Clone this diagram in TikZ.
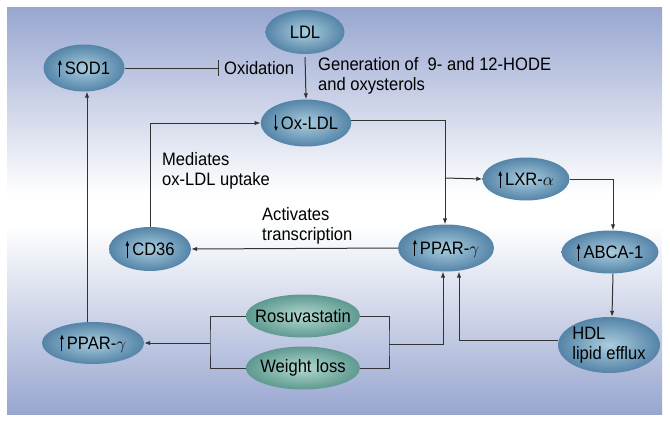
\documentclass[tikz,border=0pt]{standalone}
\usepackage{fontspec}
\setmainfont{Liberation Sans}[FakeStretch=0.92]
\usetikzlibrary{arrows.meta,shapes.geometric}
\definecolor{bgblue}{HTML}{98A6D0}
\definecolor{cellout}{HTML}{5584A8}
\definecolor{cellin}{HTML}{A9CDDE}
\definecolor{drugout}{HTML}{5E998F}
\definecolor{drugin}{HTML}{B2D9D0}
\definecolor{linegray}{HTML}{333333}
\tikzset{
	cell/.style={ellipse, inner sep=0pt, shading=radial, inner color=cellin, outer color=cellout, font=\fontsize{18}{20}\selectfont},
	drug/.style={cell, inner color=drugin, outer color=drugout, inner xsep=-9pt},
	conn/.style={draw=linegray, line width=1pt},
	arr/.style={conn, -{Latex[length=6pt,width=4.5pt]}},
	lbl/.style={font=\fontsize{18}{20.5}\selectfont, align=left, inner sep=0pt}
}
\newcommand{\upa}{\tikz[baseline=0pt]\draw[line width=1pt,-{Latex[length=5pt,width=4pt]}] (0,-2pt) -- (0,15pt);\kern3pt}
\newcommand{\dna}{\tikz[baseline=0pt]\draw[line width=1pt,-{Latex[length=5pt,width=4pt]}] (0,15pt) -- (0,-2pt);\kern3pt}
\begin{document}
\begin{tikzpicture}[x=1pt, y=-1pt]
	\useasboundingbox (0, 0) rectangle (670, 421);
	% Draw background
	\fill[top color=bgblue, bottom color=white] (7, 7) rectangle (662, 195);
	\fill[white] (7, 195) rectangle (662, 225);
	\fill[top color=white, bottom color=bgblue] (7, 225) rectangle (662, 414);

	% Draw cells
	\node[cell, minimum width=81, minimum height=47] (sod1) at (84, 68) {\upa SOD1};
	\node[cell, minimum width=79, minimum height=44] (ldl) at (305, 32) {LDL};
	\node[cell, minimum width=88, minimum height=47] (oxldl) at (306, 123) {\dna Ox-LDL};
	\node[cell, minimum width=87, minimum height=43] (lxr) at (526, 179) {\upa LXR-$\alpha$};
	\node[cell, minimum width=97, minimum height=43] (abca) at (610, 252) {\upa ABCA-1};
	\node[cell, minimum width=102, minimum height=56, align=left, inner xsep=-4pt] (hdl) at (609, 345) {HDL\\lipid efflux};
	\node[cell, minimum width=96, minimum height=47] (pparc) at (446, 248) {\upa PPAR-$\gamma$};
	\node[cell, minimum width=82, minimum height=44] (cd36) at (150, 249) {\upa CD36};
	\node[cell, minimum width=102, minimum height=42] (pparl) at (93, 343) {\upa PPAR-$\gamma$};

	% Draw drugs
	\node[drug, minimum width=114, minimum height=43] (rosu) at (303, 316) {Rosuvastatin};
	\node[drug, minimum width=114, minimum height=43] (wloss) at (303, 368) {Weight loss};

	% Draw labels
	\node[lbl, anchor=west] (oxid) at (224, 68) {Oxidation};
	\node[lbl, anchor=north west] (gen) at (318, 57) {Generation of \ 9- and 12-HODE\\and oxysterols};
	\node[lbl, anchor=north west] (medi) at (162, 152) {Mediates\\ox-LDL uptake};
	\node[lbl, anchor=north west] (acti) at (262, 207) {Activates\\transcription};

	% Draw joints
	\coordinate (lj) at (210, 343);
	\coordinate (rj) at (389, 344);
	\coordinate (br) at (445, 178);

	% Draw connectors
	\draw[conn, -{Bar[width=16pt]}] (sod1.east) -- ([xshift=-5pt]oxid.west);
	\draw[arr, shorten <=3pt] (ldl.south) -- (oxldl.north);
	\draw[arr] ([yshift=3pt]oxldl.east) -| ([xshift=-1pt]pparc.north);
	\draw[arr] (br) -- (lxr.west);
	\draw[arr] (lxr.east) -| ([xshift=3pt]abca.north);
	\draw[arr] ([xshift=3pt]abca.south) -- ([xshift=3pt]hdl.north);
	\draw[arr] ([yshift=5pt]hdl.west) -| ([xshift=13pt]pparc.south);
	\draw[arr] (pparc.west) -- (cd36.east);
	\draw[arr] (cd36.north) |- (oxldl.west);
	\draw[arr] ([xshift=-6pt]pparl.north) -- ([xshift=-6pt]pparl.north |- sod1.south);
	\draw[conn] (rosu.west) -| (lj) |- (wloss.west);
	\draw[arr] (lj) -- (pparl.east);
	\draw[conn] (rosu.east) -| (rj) |- (wloss.east);
	\draw[arr] (rj) -| ([xshift=-3pt]pparc.south);
\end{tikzpicture}
\end{document}
